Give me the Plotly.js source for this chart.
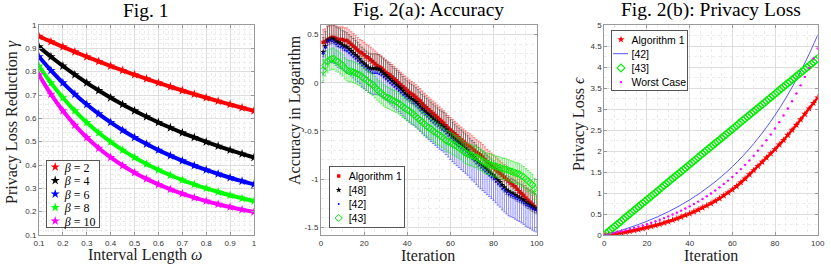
<!DOCTYPE html>
<html>
<head>
<meta charset="utf-8">
<script src="https://cdn.plot.ly/plotly-3.0.1.min.js"></script>
<style>html,body{margin:0;padding:0;background:#fff;}#chart{width:831px;height:265px;}</style>
</head>
<body>
<div id="chart"></div>
<script>
// ---------- Fig. 1 data ----------
const omega = [0.1,0.15,0.2,0.25,0.3,0.35,0.4,0.45,0.5,0.55,0.6,0.65,0.7,0.75,0.8,0.85,0.9,0.95,1.0];
const gammaBeta2 = [0.9516,0.9286,0.9063,0.8848,0.8639,0.8437,0.8242,0.8053,0.7869,0.7692,0.7520,0.7353,0.7192,0.7035,0.6883,0.6736,0.6594,0.6455,0.6321];
const gammaBeta4 = [0.9063,0.8639,0.8242,0.7869,0.7520,0.7192,0.6883,0.6594,0.6321,0.6065,0.5823,0.5596,0.5381,0.5179,0.4988,0.4808,0.4637,0.4476,0.4323];
const gammaBeta6 = [0.8639,0.8053,0.7520,0.7035,0.6594,0.6191,0.5823,0.5487,0.5179,0.4897,0.4637,0.4399,0.4179,0.3976,0.3789,0.3615,0.3455,0.3306,0.3167];
const gammaBeta8 = [0.8242,0.7520,0.6883,0.6321,0.5823,0.5381,0.4988,0.4637,0.4323,0.4042,0.3789,0.3560,0.3354,0.3167,0.2998,0.2843,0.2702,0.2573,0.2454];
const gammaBeta10 = [0.7869,0.7035,0.6321,0.5708,0.5179,0.4721,0.4323,0.3976,0.3672,0.3404,0.3167,0.2958,0.2771,0.2604,0.2454,0.2319,0.2198,0.2087,0.1987];
const betaLabels = ['<i>β</i> = 2','<i>β</i> = 4','<i>β</i> = 6','<i>β</i> = 8','<i>β</i> = 10'];

// ---------- Fig. 2(a) data (iterations 1..100) ----------
const accAlg1 = [0.42,0.43,0.45,0.46,0.47,0.47,0.46,0.45,0.45,0.45,0.44,0.44,0.42,0.40,0.38,0.36,0.34,0.32,0.31,0.29,
0.27,0.26,0.24,0.22,0.20,0.18,0.165,0.15,0.13,0.11,0.095,0.08,0.06,0.04,0.02,0.00,-0.02,-0.04,-0.06,-0.08,
-0.10,-0.115,-0.13,-0.15,-0.17,-0.19,-0.215,-0.24,-0.26,-0.28,-0.30,-0.32,-0.34,-0.36,-0.38,-0.40,-0.42,-0.445,-0.47,-0.49,
-0.51,-0.53,-0.55,-0.57,-0.59,-0.61,-0.63,-0.645,-0.66,-0.68,-0.70,-0.72,-0.735,-0.75,-0.77,-0.795,-0.82,-0.84,-0.86,-0.88,
-0.90,-0.92,-0.94,-0.96,-0.98,-1.00,-1.02,-1.04,-1.06,-1.08,-1.105,-1.13,-1.15,-1.17,-1.195,-1.22,-1.24,-1.26,-1.285,-1.31];
const acc48 = [0.32,0.38,0.44,0.45,0.46,0.45,0.43,0.42,0.41,0.39,0.38,0.37,0.35,0.33,0.31,0.29,0.27,0.245,0.22,0.20,
0.18,0.16,0.15,0.15,0.15,0.145,0.14,0.12,0.10,0.08,0.06,0.04,0.02,0.00,-0.02,-0.04,-0.06,-0.085,-0.11,-0.13,
-0.15,-0.165,-0.18,-0.20,-0.22,-0.245,-0.27,-0.29,-0.31,-0.33,-0.35,-0.37,-0.39,-0.41,-0.43,-0.445,-0.46,-0.485,-0.51,-0.535,
-0.56,-0.58,-0.60,-0.62,-0.64,-0.66,-0.68,-0.70,-0.725,-0.75,-0.77,-0.795,-0.82,-0.84,-0.86,-0.88,-0.90,-0.92,-0.94,-0.96,
-0.985,-1.01,-1.03,-1.06,-1.085,-1.11,-1.125,-1.14,-1.15,-1.165,-1.18,-1.19,-1.205,-1.22,-1.24,-1.255,-1.27,-1.285,-1.30,-1.31];
const acc42 = [0.30,0.36,0.42,0.44,0.43,0.42,0.40,0.38,0.37,0.36,0.34,0.33,0.31,0.29,0.27,0.25,0.23,0.21,0.18,0.16,
0.14,0.12,0.11,0.10,0.10,0.10,0.09,0.08,0.06,0.04,0.02,0.00,-0.02,-0.04,-0.06,-0.08,-0.10,-0.125,-0.15,-0.17,
-0.19,-0.21,-0.22,-0.24,-0.26,-0.285,-0.31,-0.33,-0.35,-0.37,-0.39,-0.41,-0.43,-0.45,-0.47,-0.485,-0.50,-0.525,-0.55,-0.575,
-0.60,-0.62,-0.64,-0.66,-0.68,-0.70,-0.72,-0.74,-0.765,-0.79,-0.81,-0.835,-0.86,-0.88,-0.90,-0.92,-0.94,-0.96,-0.98,-1.00,
-1.025,-1.05,-1.07,-1.10,-1.12,-1.14,-1.16,-1.17,-1.18,-1.195,-1.21,-1.22,-1.235,-1.25,-1.27,-1.28,-1.295,-1.31,-1.32,-1.33];
const acc43 = [0.13,0.18,0.22,0.24,0.25,0.25,0.23,0.22,0.20,0.18,0.15,0.13,0.12,0.12,0.11,0.10,0.09,0.08,0.06,0.045,
0.03,0.01,-0.005,-0.02,-0.045,-0.07,-0.09,-0.11,-0.13,-0.145,-0.155,-0.165,-0.18,-0.19,-0.20,-0.215,-0.23,-0.25,-0.265,-0.28,
-0.295,-0.31,-0.33,-0.35,-0.37,-0.39,-0.41,-0.43,-0.45,-0.465,-0.48,-0.50,-0.515,-0.53,-0.545,-0.56,-0.58,-0.60,-0.61,-0.62,
-0.635,-0.65,-0.66,-0.675,-0.69,-0.71,-0.73,-0.74,-0.75,-0.755,-0.765,-0.77,-0.785,-0.80,-0.815,-0.83,-0.84,-0.845,-0.855,-0.86,
-0.87,-0.875,-0.88,-0.89,-0.895,-0.90,-0.91,-0.92,-0.925,-0.935,-0.94,-0.95,-0.965,-0.98,-1.00,-1.02,-1.04,-1.06,-1.10,-1.13];
const accErrUp = {alg1:0.13, r48:0.15, r42:0.02, r43:0.11};
const accErrDown = {alg1:0.04, r48:0.05, r42:0.22, r43:0.11};
const accYTicks = [0.5,0,-0.5,-1,-1.5];
const accYTickText = ['0.5','0','-0.5','-1','-1.5'];

// ---------- Fig. 2(b) data ----------
const lossAlg1 = [0,0.01,0.025,0.04,0.055,0.07,0.09,0.11,0.13,0.155,0.18,0.205,0.23,0.26,0.29,0.32,0.355,0.39,0.43,0.47,
0.51,0.555,0.6,0.65,0.7,0.75,0.81,0.87,0.94,1.01,1.08,1.16,1.25,1.34,1.44,1.54,1.64,1.74,1.84,1.94,
2.04,2.15,2.26,2.38,2.5,2.62,2.75,2.88,3.01,3.14,3.27]; // iterations 0,2,...,100
const loss42 = [0,0.069,0.146,0.232,0.328,0.435,0.554,0.688,0.837,1.003,1.189,1.396,1.627,1.885,2.174,2.495,2.854,3.255,3.703,4.202,4.76]; // 0,5,...,100
const loss43 = [0.042,0.084,0.126,0.168,0.21,0.252,0.294,0.336,0.378,0.42,0.462,0.504,0.546,0.588,0.63,0.672,0.714,0.756,0.798,0.84,
0.882,0.924,0.966,1.008,1.05,1.092,1.134,1.176,1.218,1.26,1.302,1.344,1.386,1.428,1.47,1.512,1.554,1.596,1.638,1.68,
1.722,1.764,1.806,1.848,1.89,1.932,1.974,2.016,2.058,2.1,2.142,2.184,2.226,2.268,2.31,2.352,2.394,2.436,2.478,2.52,
2.562,2.604,2.646,2.688,2.73,2.772,2.814,2.856,2.898,2.94,2.982,3.024,3.066,3.108,3.15,3.192,3.234,3.276,3.318,3.36,
3.402,3.444,3.486,3.528,3.57,3.612,3.654,3.696,3.738,3.78,3.822,3.864,3.906,3.948,3.99,4.032,4.074,4.116,4.158,4.2]; // 1..100
const lossWorst = [0,0.0204,0.0418,0.0642,0.0878,0.1127,0.1389,0.1664,0.1953,0.2257,0.2576,0.291,0.3263,0.3633,0.4023,0.4433,0.4864,0.5318,0.5795,0.6295,
0.6822,0.7375,0.7957,0.8568,0.9211,0.9886,1.0597,1.1344,1.2129,1.2955,1.3823,1.4735,1.5694,1.6702,1.7762,1.8876,2.0047,2.1279,2.2573,2.3934,
2.5366,2.6869,2.8449,3.0112,3.1859,3.3697,3.5628,3.7658,3.9792,4.2036,4.4395]; // 0,2,...,100

function seq(a, b, s) { const o = []; for (let v = a; v <= b + 1e-9; v += s) o.push(+v.toFixed(4)); return o; }
const iters = seq(1, 100, 1);
const iters2 = seq(0, 100, 2);
const iters5 = seq(0, 100, 5);

const SERIF = 'Liberation Serif, DejaVu Serif, serif';
const SANS = 'Liberation Sans, Arial, sans-serif';

const traces = [];
// Fig 1: a thick line under the star markers to form the dense band
const fig1Series = [gammaBeta2, gammaBeta4, gammaBeta6, gammaBeta8, gammaBeta10];
const fig1Colors = ['#ff0000', '#000000', '#0000ff', '#00ff00', '#ff00ff'];
fig1Series.forEach((ys, i) => {
  traces.push({
    type: 'scatter', mode: 'lines', x: omega, y: ys, showlegend: false, hoverinfo: 'skip',
    xaxis: 'x', yaxis: 'y', line: {color: fig1Colors[i], width: 4, shape: 'spline'}
  });
  traces.push({
    type: 'scatter', mode: 'markers', x: omega, y: ys, name: betaLabels[i],
    xaxis: 'x', yaxis: 'y', legend: 'legend',
    marker: {symbol: 'star', size: 7, color: fig1Colors[i]}
  });
});
// Fig 2(a)
const errStyle = (c, up, down) => ({type: 'constant', symmetric: false, value: up, valueminus: down, color: c, thickness: 1, width: 1.3});
traces.push({type: 'scatter', mode: 'markers', x: iters, y: accAlg1, name: 'Algorithm 1', xaxis: 'x2', yaxis: 'y2', legend: 'legend2',
  marker: {symbol: 'square', size: 3.5, color: '#ff0000'}, error_y: errStyle('rgba(255,60,60,0.6)', accErrUp.alg1, accErrDown.alg1)});
traces.push({type: 'scatter', mode: 'markers', x: iters, y: acc48, name: '[48]', xaxis: 'x2', yaxis: 'y2', legend: 'legend2',
  marker: {symbol: 'star', size: 4.5, color: '#000000'}, error_y: errStyle('rgba(50,50,50,0.5)', accErrUp.r48, accErrDown.r48)});
traces.push({type: 'scatter', mode: 'markers', x: iters, y: acc42, name: '[42]', xaxis: 'x2', yaxis: 'y2', legend: 'legend2',
  marker: {symbol: 'circle', size: 1.8, color: '#0000ff'}, error_y: errStyle('rgba(30,30,255,0.5)', accErrUp.r42, accErrDown.r42)});
traces.push({type: 'scatter', mode: 'markers', x: iters, y: acc43, name: '[43]', xaxis: 'x2', yaxis: 'y2', legend: 'legend2',
  marker: {symbol: 'diamond-open', size: 5.5, color: '#00ee00', line: {width: 1}}, error_y: errStyle('rgba(30,230,30,0.6)', accErrUp.r43, accErrDown.r43)});
// Fig 2(b)
traces.push({type: 'scatter', mode: 'lines', x: iters2, y: lossAlg1, showlegend: false, hoverinfo: 'skip', xaxis: 'x3', yaxis: 'y3',
  line: {color: '#ff0000', width: 2.5, shape: 'spline'}});
traces.push({type: 'scatter', mode: 'markers', x: iters2, y: lossAlg1, name: 'Algorithm 1', xaxis: 'x3', yaxis: 'y3', legend: 'legend3',
  marker: {symbol: 'star', size: 5.5, color: '#ff0000'}});
traces.push({type: 'scatter', mode: 'lines', x: iters5, y: loss42, name: '[42]', xaxis: 'x3', yaxis: 'y3', legend: 'legend3',
  line: {color: '#5555ff', width: 1, shape: 'spline'}});
traces.push({type: 'scatter', mode: 'markers', x: iters, y: loss43, name: '[43]', xaxis: 'x3', yaxis: 'y3', legend: 'legend3',
  marker: {symbol: 'diamond-open', size: 6, color: '#00ee00', line: {width: 1.2}}});
traces.push({type: 'scatter', mode: 'markers', x: iters2, y: lossWorst, name: 'Worst Case', xaxis: 'x3', yaxis: 'y3', legend: 'legend3',
  marker: {symbol: 'circle', size: 2.4, color: '#ff00ff'}});

const W = 831, H = 265;
const px = v => v / W, py = v => (H - v) / H;
function axis(extra) {
  return Object.assign({
    showline: true, mirror: 'ticks', linecolor: '#9a9a9a', linewidth: 1,
    ticks: 'inside', ticklen: 3, tickcolor: '#9a9a9a',
    showgrid: true, gridcolor: '#dedede', gridwidth: 1, zeroline: false,
    tickfont: {family: SANS, size: 8, color: '#333'}, fixedrange: true
  }, extra);
}
const minorGrid = d => ({dtick: d, showgrid: true, gridcolor: '#ececec', griddash: 'dot', ticks: ''});
const yDom = [py(235), py(25)];

const legendBase = {bgcolor: '#fff', bordercolor: '#555', borderwidth: 1, itemsizing: 'trace', tracegroupgap: 0};

const layout = {
  width: W, height: H, margin: {l: 0, r: 0, t: 0, b: 0},
  paper_bgcolor: '#fff', plot_bgcolor: '#fff', showlegend: true,
  xaxis: axis({domain: [px(39), px(254)], anchor: 'y', range: [0.1, 1], tick0: 0.1, dtick: 0.1, minor: minorGrid(0.02)}),
  yaxis: axis({domain: yDom, anchor: 'x', range: [0.1, 1], tick0: 0.1, dtick: 0.1, minor: minorGrid(0.02)}),
  xaxis2: axis({domain: [px(321), px(536.7)], anchor: 'y2', range: [0, 100], dtick: 20, minor: minorGrid(5)}),
  yaxis2: axis({domain: yDom, anchor: 'x2', range: [-1.58, 0.6], tickvals: accYTicks, ticktext: accYTickText, minor: minorGrid(0.1)}),
  xaxis3: axis({domain: [px(604.3), px(817.7)], anchor: 'y3', range: [0, 100], dtick: 20, minor: minorGrid(5)}),
  yaxis3: axis({domain: yDom, anchor: 'x3', range: [0, 5], dtick: 0.5, minor: minorGrid(0.25)}),
  legend: Object.assign({}, legendBase, {x: px(45), y: py(226), xanchor: 'left', yanchor: 'bottom', font: {family: SERIF, size: 12, color: '#000'}}),
  legend2: Object.assign({}, legendBase, {x: px(328), y: py(228), xanchor: 'left', yanchor: 'bottom', font: {family: SANS, size: 10.5, color: '#000'}}),
  legend3: Object.assign({}, legendBase, {x: px(611), y: py(29), xanchor: 'left', yanchor: 'top', font: {family: SANS, size: 10.5, color: '#000'}}),
  annotations: [
    {text: 'Fig. 1', x: px(146), y: py(10.5)},
    {text: 'Fig. 2(a): Accuracy', x: px(428.5), y: py(10.5)},
    {text: 'Fig. 2(b): Privacy Loss', x: px(711), y: py(10.5)},
  ].map(a => Object.assign(a, {xref: 'paper', yref: 'paper', xanchor: 'center', yanchor: 'middle', showarrow: false, font: {family: SERIF, size: 19.5, color: '#000'}}))
  .concat([
    {text: 'Interval Length <i>ω</i>', x: px(145), y: py(255)},
    {text: 'Iteration', x: px(428), y: py(255)},
    {text: 'Iteration', x: px(711), y: py(255)},
  ].map(a => Object.assign(a, {xref: 'paper', yref: 'paper', xanchor: 'center', yanchor: 'middle', showarrow: false, font: {family: SERIF, size: 16, color: '#222'}})))
  .concat([
    {text: 'Privacy Loss Reduction <i>γ</i>', x: px(12), y: py(122)},
    {text: 'Accuracy in Logarithm', x: px(295), y: py(110)},
    {text: 'Privacy Loss <i>ϵ</i>', x: px(579), y: py(124)},
  ].map(a => Object.assign(a, {xref: 'paper', yref: 'paper', xanchor: 'center', yanchor: 'middle', textangle: -90, showarrow: false, font: {family: SERIF, size: 16, color: '#222'}})))
};

// Tighten the legend boxes to the compact MATLAB look (positions in px)
const legendBoxes = {
  legend:  {left: 45.7, top: 160, w: 54,   h: 68, first: 7,    pitch: 13.5, symX: 9.5, textX: 19, lineX0: 2, lineLen: 15},
  legend2: {left: 328.7, top: 166, w: 76.5, h: 62, first: 10,  pitch: 14,   symX: 10,  textX: 20, lineX0: 2, lineLen: 15},
  legend3: {left: 611, top: 30,  w: 77,   h: 61, first: 9.5,  pitch: 14.2, symX: 10,  textX: 20.5, lineX0: 2, lineLen: 15}
};
function compactLegend(id, o) {
  const g = document.querySelector('g.' + id);
  if (!g) return;
  g.querySelectorAll('g.traces').forEach((it, i) => {
    it.setAttribute('transform', `translate(0,${o.first + i * o.pitch})`);
    it.querySelectorAll('text').forEach(t => {
      t.setAttribute('x', o.textX);
      t.removeAttribute('transform');
      t.querySelectorAll('tspan[x]').forEach(s => s.setAttribute('x', o.textX));
    });
    it.querySelectorAll('path.scatterpts').forEach(p => p.setAttribute('transform', `translate(${o.symX},0)`));
    it.querySelectorAll('path.js-line').forEach(p => p.setAttribute('d', `M${o.lineX0},0h${o.lineLen}`));
  });
  const bg = g.querySelector('rect.bg');
  if (bg) { bg.setAttribute('x', 0.5); bg.setAttribute('y', 0.5); bg.setAttribute('width', o.w - 1); bg.setAttribute('height', o.h - 1); }
  g.setAttribute('transform', `translate(${o.left},${o.top})`);
}
function compactAll() { Object.keys(legendBoxes).forEach(id => compactLegend(id, legendBoxes[id])); }

Plotly.newPlot('chart', traces, layout, {staticPlot: true, displayModeBar: false}).then(() => {
  compactAll();
  requestAnimationFrame(compactAll);
  setTimeout(compactAll, 30);
  setTimeout(compactAll, 200);
});
</script>
</body>
</html>
